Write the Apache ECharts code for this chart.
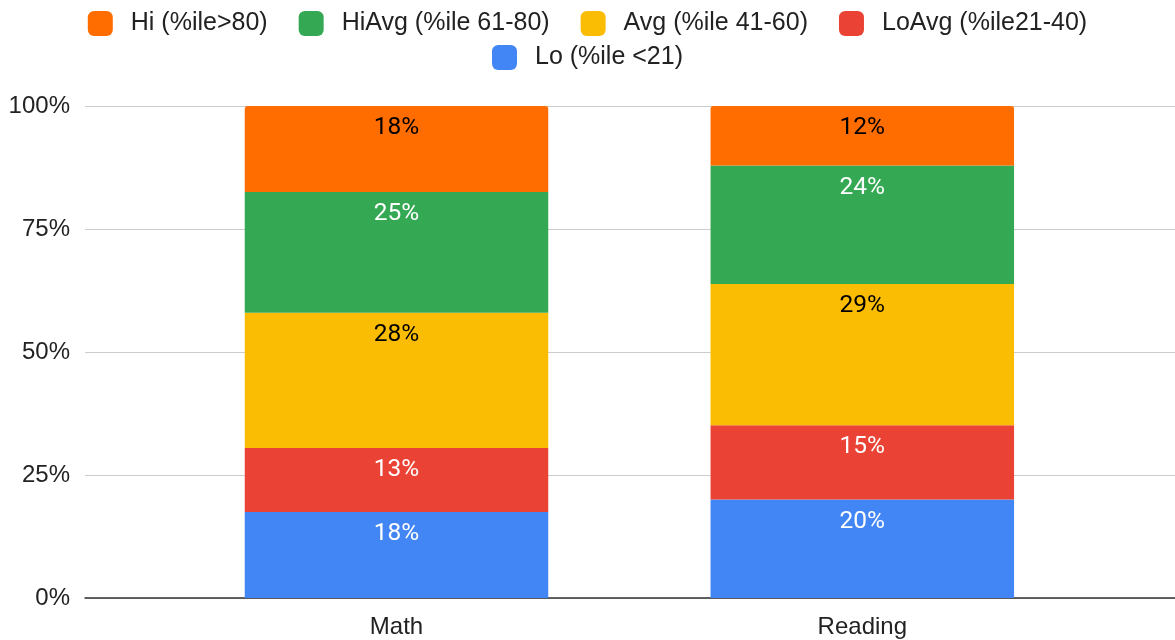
<!DOCTYPE html>
<html>
<head>
<meta charset="utf-8">
<script src="https://cdn.jsdelivr.net/npm/echarts@6/dist/echarts.min.js"></script>
<style>
html,body{margin:0;padding:0;background:#fff;}
#chart{width:1175px;height:640px;}
</style>
</head>
<body>
<div id="chart"></div>
<script>
const categories = ['Math', 'Reading'];
const seriesNames = ['Lo (%ile <21)', 'LoAvg (%ile21-40)', 'Avg (%ile 41-60)', 'HiAvg (%ile 61-80)', 'Hi (%ile>80)'];
const lo    = [17.5, 20.0];
const loAvg = [13.0, 15.1];
const avg   = [27.5, 28.7];
const hiAvg = [24.5, 24.1];
const hi    = [17.5, 12.1];
const yTicks = [0, 25, 50, 75, 100];

const colors = ['#4285f4', '#ea4335', '#fbbc04', '#34a853', '#ff6d01'];
const labelColors = ['#ffffff', '#ffffff', '#000000', '#ffffff', '#000000'];
const values = [lo, loAvg, avg, hiAvg, hi];

const txtFont = "'Liberation Sans', Arial, sans-serif";

const chart = echarts.init(document.getElementById('chart'), null, {renderer: 'canvas'});

const series = values.map((v, i) => ({
  name: seriesNames[i],
  type: 'bar',
  stack: 'total',
  xAxisIndex: 1,
  yAxisIndex: 1,
  barWidth: 303.5,
  data: v,
  itemStyle: {
    color: colors[i],
    borderRadius: i === values.length - 1 ? [3, 3, 0, 0] : 0
  },
  label: {
    show: true,
    position: 'insideTop',
    distance: 10,
    formatter: p => Math.round(p.value) + '%',
    color: labelColors[i],
    fontFamily: 'Roboto, sans-serif',
    fontSize: 24.5,
    lineHeight: 24
  },
  emphasis: {disabled: true}
}));

const legendBase = {
  left: 'center',
  itemWidth: 25,
  itemHeight: 25,
  itemGap: 31,
  icon: 'roundRect',
  textStyle: {fontFamily: txtFont, fontSize: 25, color: '#222', padding: [0, 0, 0, 13]},
  selectedMode: false
};

const option = {
  animation: false,
  backgroundColor: '#ffffff',
  color: colors,
  legend: [
    Object.assign({}, legendBase, {
      data: [seriesNames[4], seriesNames[3], seriesNames[2], seriesNames[1]],
      top: 6
    }),
    Object.assign({}, legendBase, {
      data: [seriesNames[0]],
      top: 40
    })
  ],
  grid: [
    {left: 85, right: 0, top: 106, bottom: 42},
    {left: 163.6, right: 79.8, top: 106, bottom: 42}
  ],
  xAxis: [
    {
      gridIndex: 0,
      type: 'category',
      data: [''],
      axisLine: {show: true, lineStyle: {color: '#333', width: 1.5}},
      axisTick: {show: false},
      axisLabel: {show: false}
    },
    {
      gridIndex: 1,
      type: 'category',
      data: categories,
      axisLine: {show: false},
      axisTick: {show: false},
      axisLabel: {fontFamily: txtFont, fontSize: 24, color: '#222', margin: 17}
    }
  ],
  yAxis: [
    {
      gridIndex: 0,
      type: 'value',
      min: yTicks[0],
      max: yTicks[yTicks.length - 1],
      interval: yTicks[1] - yTicks[0],
      axisLine: {show: false},
      axisTick: {show: false},
      axisLabel: {formatter: '{value}%', fontFamily: txtFont, fontSize: 24, color: '#222', margin: 15},
      splitLine: {lineStyle: {color: '#cccccc', width: 1}}
    },
    {
      gridIndex: 1,
      type: 'value',
      min: yTicks[0],
      max: yTicks[yTicks.length - 1],
      show: false,
      splitLine: {show: false}
    }
  ],
  series: series
};

chart.setOption(option);
</script>
</body>
</html>
